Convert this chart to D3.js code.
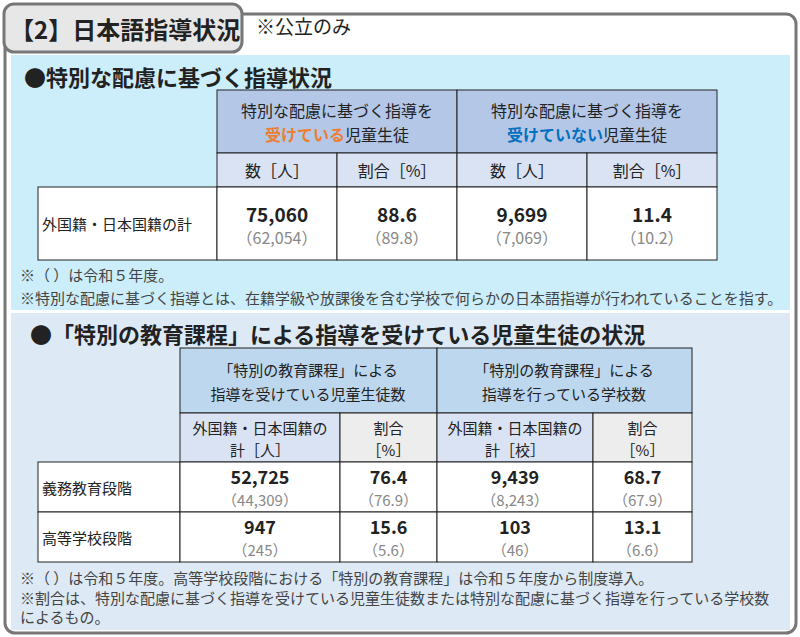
<!DOCTYPE html><html><head><meta charset="utf-8"><script src="https://cdn.jsdelivr.net/npm/d3@7"></script>
<style>body{margin:0;background:#fff}text{font-family:"Noto Sans CJK JP","Noto Sans",sans-serif}</style></head><body><svg id="c" width="800" height="637"></svg>
<script>
const t1Rows=["外国籍・日本国籍の計"];
const t1Values=[["75,060","88.6","9,699","11.4"]];
const t1Prev=[["(62,054)","(89.8)","(7,069)","(10.2)"]];
const t2Rows=["義務教育段階","高等学校段階"];
const t2Values=[["52,725","76.4","9,439","68.7"],["947","15.6","103","13.1"]];
const t2Prev=[["(44,309)","(76.9)","(8,243)","(67.9)"],["(245)","(5.6)","(46)","(6.6)"]];
const svg=d3.select("#c");
function rect(x,y,w,h,f,s,sw,r){return svg.append("rect").attr("x",x).attr("y",y).attr("width",w).attr("height",h).attr("fill",f||"none").attr("stroke",s||"none").attr("stroke-width",sw||1).attr("rx",r||0);}
function txt(x,y,s,o){o=o||{};const e=svg.append("text").attr("x",x).attr("y",y).attr("font-size",o.size||16).attr("fill",o.fill||"#222").attr("text-anchor",o.anchor||"middle").attr("dominant-baseline","central").attr("font-weight",o.bold?"bold":"normal");
 if(Array.isArray(s)){s.forEach(p=>e.append("tspan").attr("fill",p[1]).attr("font-weight",p[2]?"bold":null).text(p[0]));}else e.text(s);return e;}
rect(5,14,791,619,"#fff","#777",3,10);
rect(11,55,779,255,"#ccedfa");
rect(11,313,779,317,"#dde9f5");
rect(4,4,238,48,"#e7e7e7","#777",3,10);
txt(10,28,"【2】日本語指導状況",{size:24,bold:true,anchor:"start"});
txt(256,25,"※公立のみ",{size:19,anchor:"start"});
txt(24,76,"●特別な配慮に基づく指導状況",{size:22,bold:true,anchor:"start"});
const c1=[217,337,457,587,717];
rect(217,90,240,63,"#b4c7e7","#222",1);rect(457,90,260,63,"#b4c7e7","#222",1);
txt(337,110,"特別な配慮に基づく指導を");txt(337,134,[["受けている","#ed7d31",true],["児童生徒","#222"]]);
txt(587,110,"特別な配慮に基づく指導を");txt(587,134,[["受けていない","#0070c0",true],["児童生徒","#222"]]);
const h1=["数［人］","割合［%］","数［人］","割合［%］"];
h1.forEach((h,i)=>{rect(c1[i],153,c1[i+1]-c1[i],34,"#dae3f3","#222",1);txt((c1[i]+c1[i+1])/2,170,h);});
t1Rows.forEach((r,j)=>{const y=187+j*73;rect(38,y,179,73,"#fff","#222",1);txt(42,y+36,r,{anchor:"start",size:15});
 t1Values[j].forEach((v,i)=>{rect(c1[i],y,c1[i+1]-c1[i],73,"#fff","#222",1);txt((c1[i]+c1[i+1])/2,y+26,v,{size:19,bold:true});txt((c1[i]+c1[i+1])/2,y+50,t1Prev[j][i].replace("(","（").replace(")","）"),{size:16,fill:"#888"});});});
txt(20,274,"※（ ）は令和５年度。",{anchor:"start",size:15,fill:"#444"});
txt(20,297,"※特別な配慮に基づく指導とは、在籍学級や放課後を含む学校で何らかの日本語指導が行われていることを指す。",{anchor:"start",size:15,fill:"#444"});
txt(30,333,"●「特別の教育課程」による指導を受けている児童生徒の状況",{size:22,bold:true,anchor:"start"});
const c2=[180,340,437,593,692];
rect(180,348,257,65,"#bdd7ee","#222",1);rect(437,348,255,65,"#bdd7ee","#222",1);
txt(308,369,"「特別の教育課程」による",{size:15});txt(308,393,"指導を受けている児童生徒数",{size:15});
txt(564,369,"「特別の教育課程」による",{size:15});txt(564,393,"指導を行っている学校数",{size:15});
const h2=[["外国籍・日本国籍の","計［人］"],["割合","［%］"],["外国籍・日本国籍の","計［校］"],["割合","［%］"]];
h2.forEach((h,i)=>{rect(c2[i],413,c2[i+1]-c2[i],49,i%2?"#ededed":"#dae3f3","#222",1);txt((c2[i]+c2[i+1])/2,427,h[0],{size:15});txt((c2[i]+c2[i+1])/2,449,h[1],{size:15});});
t2Rows.forEach((r,j)=>{const y=462+j*50;rect(38,y,142,50,"#fff","#222",1);txt(42,y+25,r,{anchor:"start",size:15});
 t2Values[j].forEach((v,i)=>{rect(c2[i],y,c2[i+1]-c2[i],50,"#fff","#222",1);txt((c2[i]+c2[i+1])/2,y+14,v,{size:18,bold:true});txt((c2[i]+c2[i+1])/2,y+37,t2Prev[j][i].replace("(","（").replace(")","）"),{size:15,fill:"#888"});});});
txt(20,577,"※（ ）は令和５年度。高等学校段階における「特別の教育課程」は令和５年度から制度導入。",{anchor:"start",size:15,fill:"#444"});
txt(20,597,"※割合は、特別な配慮に基づく指導を受けている児童生徒数または特別な配慮に基づく指導を行っている学校数",{anchor:"start",size:15,fill:"#444"});
txt(20,616,"によるもの。",{anchor:"start",size:15,fill:"#444"});
</script></body></html>
